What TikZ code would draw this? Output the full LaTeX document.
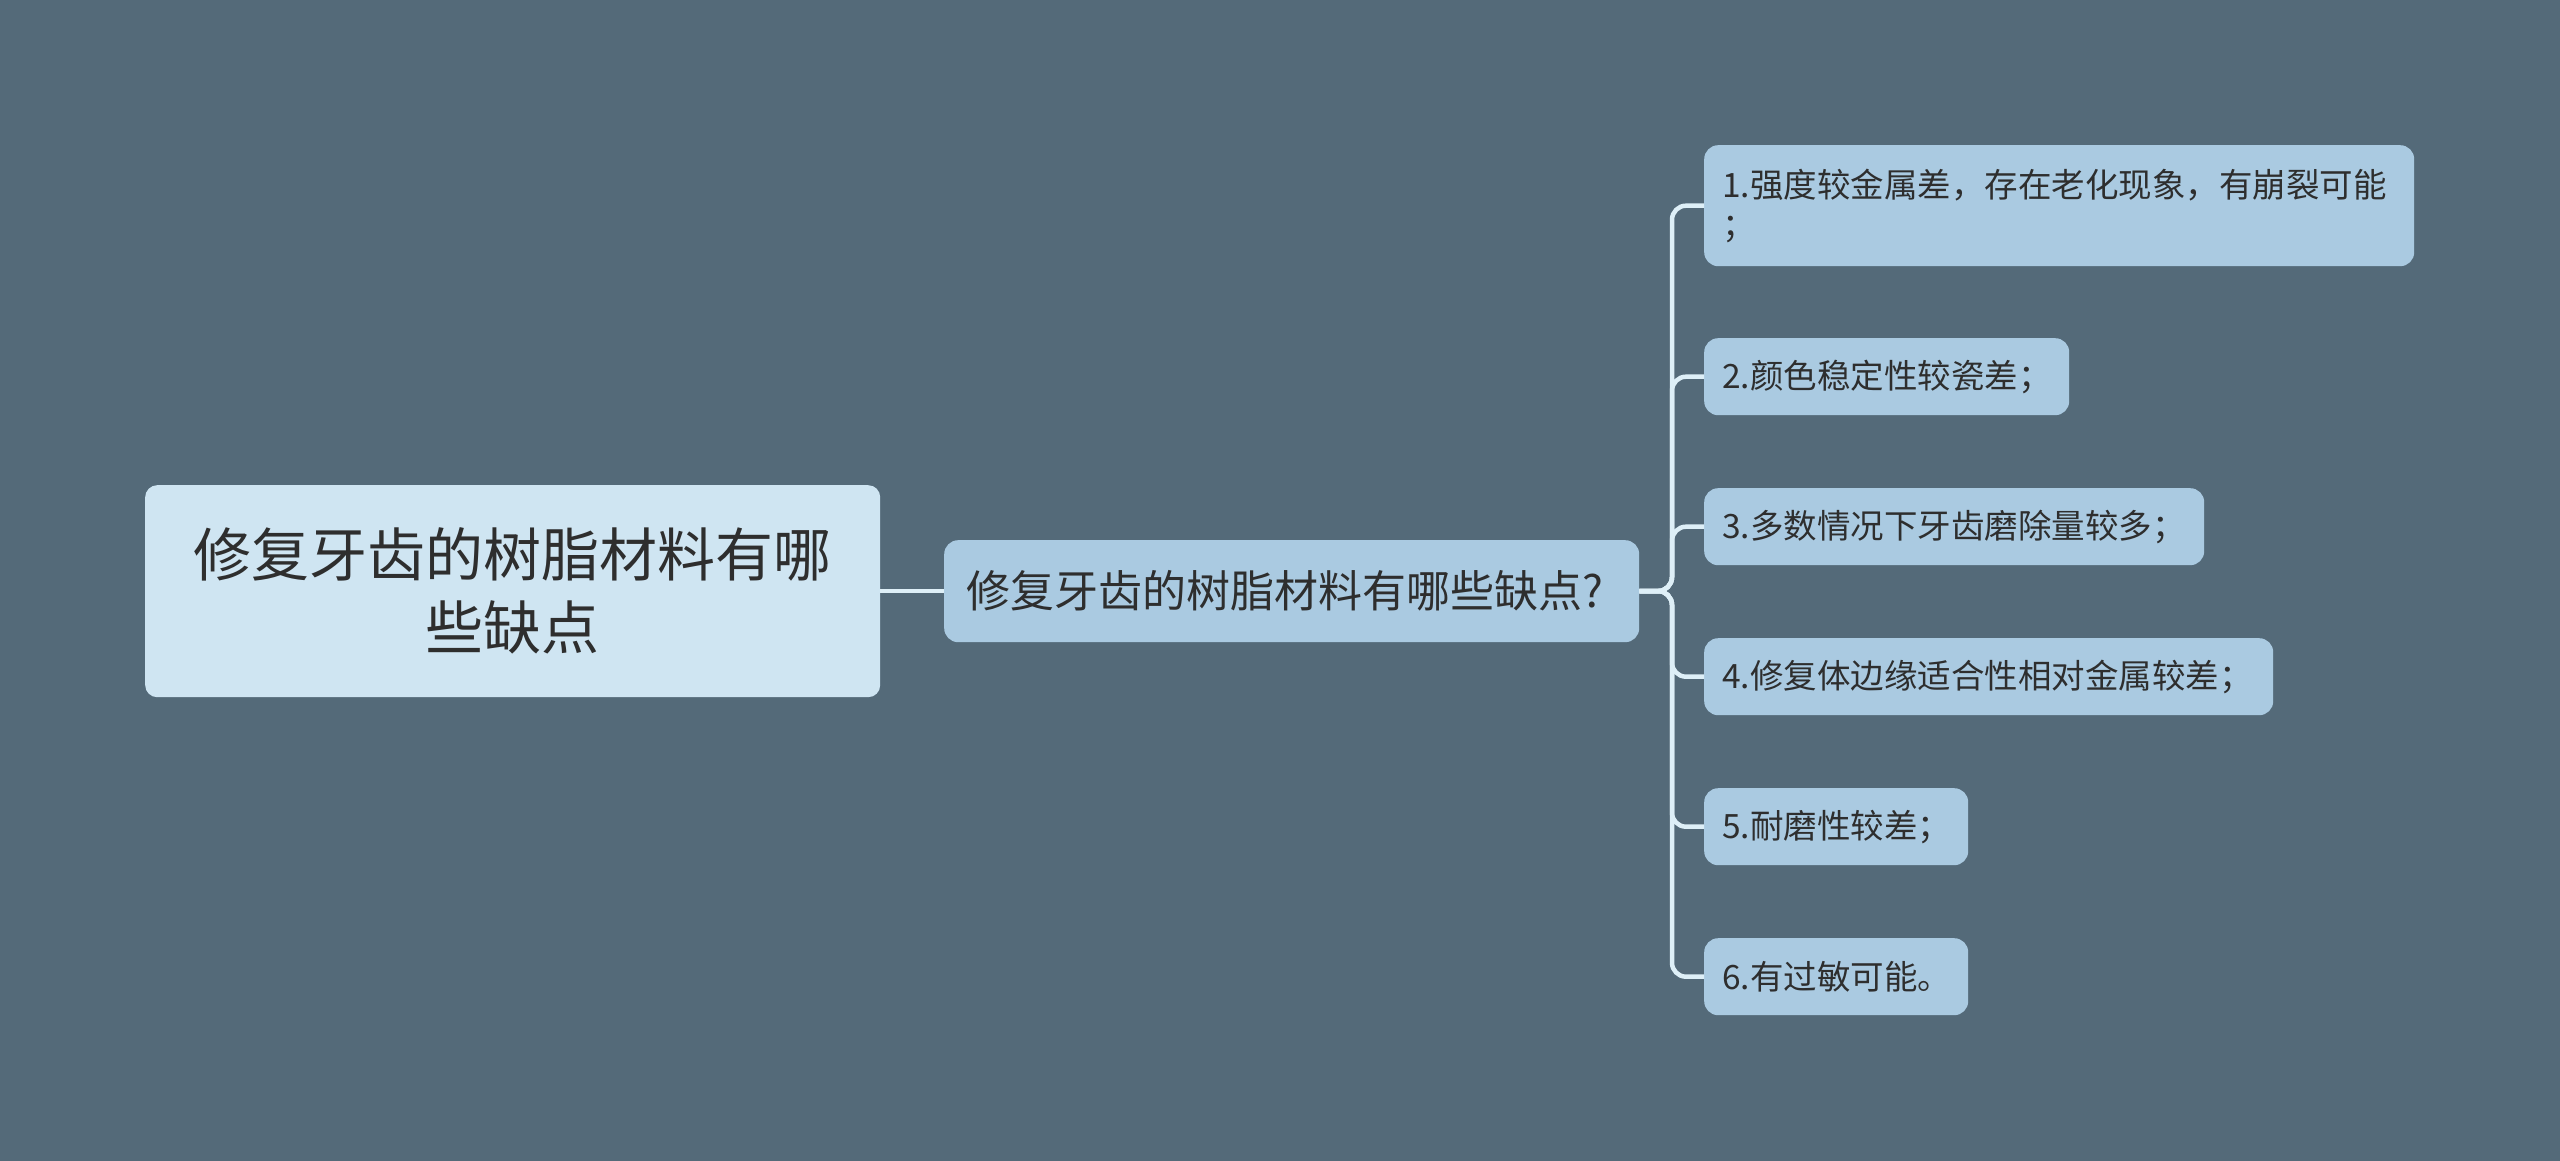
\documentclass[tikz,border=0pt]{standalone}
\usepackage{fontspec}
\newfontfamily\cjk{Noto Sans CJK SC}
\definecolor{bgc}{RGB}{84,106,121}
\definecolor{rootfill}{RGB}{207,229,242}
\definecolor{boxfill}{RGB}{170,202,225}
\definecolor{linec}{RGB}{222,239,247}
\definecolor{txt}{RGB}{46,46,46}
\tikzset{
  box/.style={fill=boxfill, rounded corners=14pt, text=txt, anchor=north west, inner ysep=0pt, align=left},
  rootbox/.style={fill=rootfill, rounded corners=12pt, text=txt, anchor=north west, inner ysep=0pt, inner xsep=10pt, align=center,
    font=\cjk\fontsize{58}{73}\selectfont},
  midbox/.style={box, inner xsep=22pt, font=\cjk\fontsize{44}{54}\selectfont},
  leafbox/.style={box, inner xsep=18pt, font=\cjk\fontsize{33.5}{40}\selectfont},
  conn/.style={draw=linec, line width=4.5pt, rounded corners=14pt}
}
\begin{document}
\begin{tikzpicture}[x=1pt,y=-1pt]
\fill[bgc] (0,0) rectangle (2560,1161);
\useasboundingbox (0,0) rectangle (2560,1161);

\node[rootbox, text width=715pt, minimum height=212pt] (root) at (145,485) {修复牙齿的树脂材料有哪\\些缺点};
\node[midbox, text width=651pt, minimum height=102pt] (mid) at (944,540) {修复牙齿的树脂材料有哪些缺点?};

\node[leafbox, text width=674pt, minimum height=121pt] (l1) at (1704,145) {1.强度较金属差，存在老化现象，有崩裂可能\\；};
\node[leafbox, text width=329pt, minimum height=77pt] (l2) at (1704,338) {2.颜色稳定性较瓷差；};
\node[leafbox, text width=464pt, minimum height=77pt] (l3) at (1704,488) {3.多数情况下牙齿磨除量较多；};
\node[leafbox, text width=533pt, minimum height=77pt] (l4) at (1704,638) {4.修复体边缘适合性相对金属较差；};
\node[leafbox, text width=228pt, minimum height=77pt] (l5) at (1704,788) {5.耐磨性较差；};
\node[leafbox, text width=228pt, minimum height=77pt] (l6) at (1704,938) {6.有过敏可能。};

\coordinate (tk) at (1672,591);
\draw[conn] (root.east) -- (mid.west);
\foreach \l in {l1,l2,l3,l4,l5,l6}{
  \draw[conn] (mid.east) -- (tk) |- (\l.west);
}
\end{tikzpicture}
\end{document}
